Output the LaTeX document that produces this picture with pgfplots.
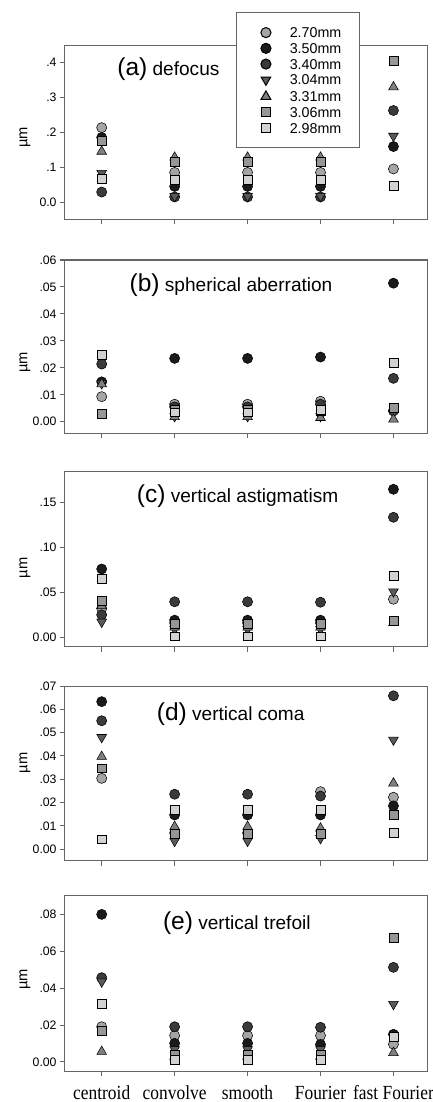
\documentclass[border=0pt]{standalone}
\usepackage{fontspec}
\setmainfont{Liberation Sans}
\newfontfamily\timesfont[FakeStretch=0.87]{Liberation Serif}
\usepackage{pgfplots}
\usepackage{pgfplotstable}
\pgfplotsset{compat=1.18}

\definecolor{c270}{HTML}{A5A5A5}
\definecolor{c350}{HTML}{1A1A1A}
\definecolor{c340}{HTML}{3A3A3A}
\definecolor{c304}{HTML}{5A5A5A}
\definecolor{c331}{HTML}{808080}
\definecolor{c306}{HTML}{969696}
\definecolor{c298}{HTML}{D2D2D2}
\definecolor{edge}{HTML}{2A2A2A}
\definecolor{frame}{HTML}{666666}

% columns: method index, then 2.70 3.50 3.40 3.04 3.31 3.06 2.98 mm
\pgfplotstableread{
x  a   b   c   d   e   f   g
0 0.213 0.185 0.029 0.083 0.145 0.176 0.068
1 0.085 0.045 0.015 0.017 0.128 0.115 0.063
2 0.085 0.045 0.015 0.017 0.128 0.115 0.063
3 0.085 0.045 0.015 0.017 0.128 0.115 0.063
4 0.095 0.159 0.262 0.189 0.329 0.404 0.047
}\defocus
\pgfplotstableread{
x  a   b   c   d   e   f   g
0 0.0093 0.0148 0.0214 0.0142 0.0140 0.0029 0.0248
1 0.0065 0.0235 0.0055 0.0020 0.0018 0.0045 0.0035
2 0.0065 0.0235 0.0055 0.0020 0.0018 0.0045 0.0035
3 0.0076 0.0240 0.0065 0.0020 0.0015 0.0040 0.0045
4 0.0040 0.0514 0.0161 0.0033 0.0009 0.0052 0.0219
}\spherical
\pgfplotstableread{
x  a   b   c   d   e   f   g
0 0.032 0.076 0.025 0.017 0.035 0.041 0.065
1 0.016 0.019 0.0395 0.009 0.011 0.015 0.001
2 0.016 0.019 0.0395 0.009 0.011 0.015 0.001
3 0.016 0.019 0.039 0.009 0.011 0.015 0.001
4 0.0423 0.1648 0.1336 0.0508 0.016 0.018 0.0683
}\astig
\pgfplotstableread{
x  a   b   c   d   e   f   g
0 0.0304 0.0633 0.0551 0.048 0.0397 0.0347 0.0043
1 0.007 0.0147 0.0236 0.0035 0.0097 0.0066 0.0171
2 0.007 0.0147 0.0236 0.0035 0.0097 0.0066 0.0171
3 0.0247 0.0147 0.0228 0.0047 0.009 0.0066 0.0168
4 0.0223 0.0186 0.0658 0.0469 0.0283 0.0147 0.0069
}\coma
\pgfplotstableread{
x  a   b   c   d   e   f   g
0 0.0191 0.080 0.0457 0.0435 0.0056 0.017 0.0314
1 0.0143 0.0101 0.0191 0.0068 0.003 0.004 0.0013
2 0.0143 0.0101 0.0191 0.0068 0.003 0.004 0.0013
3 0.0143 0.0095 0.0188 0.0068 0.003 0.004 0.0013
4 0.0096 0.0150 0.0513 0.0313 0.005 0.0673 0.0137
}\trefoil

\pgfplotsset{
  panel/.style={
    scale only axis, width=271.875pt,
    xmin=-0.51, xmax=4.46,
    xtick={0,1,2,3,4}, xticklabels={},
    scaled y ticks=false,
    tick align=outside, major tick length=3.75pt,
    xtick pos=bottom, ytick pos=left,
    axis line style={frame, line width=0.75pt},
    every tick/.style={frame, line width=0.75pt},
    tick label style={font=\fontsize{9.2}{11}\selectfont},
    yticklabel style={anchor=east, inner sep=0pt, xshift=-2pt},
    ylabel={µm},
    ylabel style={font=\fontsize{11}{12}\selectfont, anchor=center},
    clip=false,
  },
  mk/.style={only marks, mark options={draw=edge, line width=0.55pt}},
  s1/.style={mk, mark=*, mark size=3.8pt, mark options={fill=c270}},
  s2/.style={mk, mark=*, mark size=3.8pt, mark options={fill=c350}},
  s3/.style={mk, mark=*, mark size=3.8pt, mark options={fill=c340}},
  s4/.style={mk, mark=triangle*, mark size=4.2pt, mark options={rotate=180, fill=c304}},
  s5/.style={mk, mark=triangle*, mark size=4.2pt, mark options={fill=c331}},
  s6/.style={mk, mark=square*, mark size=3.3pt, mark options={fill=c306}},
  s7/.style={mk, mark=square*, mark size=3.3pt, mark options={fill=c298}},
}
\tikzset{titlefont/.style={font=\fontsize{14.3}{16}\selectfont, anchor=base west, inner sep=0pt}}
\newcommand{\bigpar}[1]{{\fontsize{18.4}{20}\selectfont #1}}
\newcommand{\allseries}[1]{%
  \addplot[s1] table[x=x,y=a]{#1};
  \addplot[s2] table[x=x,y=b]{#1};
  \addplot[s3] table[x=x,y=c]{#1};
  \addplot[s4] table[x=x,y=d]{#1};
  \addplot[s5] table[x=x,y=e]{#1};
  \addplot[s6] table[x=x,y=f]{#1};
  \addplot[s7] table[x=x,y=g]{#1};
}

\begin{document}
\begin{tikzpicture}
\path[use as bounding box] (0,0) rectangle (324pt,-826.5pt);

% (a)
\begin{axis}[panel, at={(48.375pt,-164.5pt)}, anchor=south west, height=130.7pt,
  ymin=-0.049, ymax=0.449,
  ytick={0,0.1,0.2,0.3,0.4}, yticklabels={0.0,.1,.2,.3,.4},
  ylabel style={at={(axis description cs:-0.109,0.47)}},
  legend image code/.code={\path (0pt,0pt) (17pt,0pt); \draw[#1] plot coordinates {(8.5pt,0pt)};},
  legend style={at={(axis description cs:0.472,1.188)}, anchor=north west,
    draw=frame, line width=0.75pt, fill=white,
    inner xsep=13.5pt, inner ysep=11pt, row sep=4.1pt, column sep=9pt,
    nodes={inner sep=0pt, text height=7.7pt, text depth=0pt, font=\fontsize{10.7}{11}\selectfont}},
  legend cell align=left]
\allseries{\defocus}
\legend{2.70mm,3.50mm,3.40mm,3.04mm,3.31mm,3.06mm,2.98mm}
\node[titlefont] at (rel axis cs:0.145,0.825) {\bigpar{(a)} defocus};
\end{axis}

% (b)
\begin{axis}[panel, at={(48.375pt,-325pt)}, anchor=south west, height=130pt,
  ymin=-0.0043, ymax=0.06,
  ytick={0,0.01,0.02,0.03,0.04,0.05,0.06}, yticklabels={0.00,.01,.02,.03,.04,.05,.06},
  ylabel style={at={(axis description cs:-0.109,0.41)}}]
\allseries{\spherical}
\node[titlefont] at (rel axis cs:0.179,0.821) {\bigpar{(b)} spherical aberration};
\end{axis}

% (c)
\begin{axis}[panel, at={(48.375pt,-485pt)}, anchor=south west, height=131.25pt,
  ymin=-0.0105, ymax=0.1844,
  ytick={0,0.05,0.10,0.15}, yticklabels={0.00,.05,.10,.15},
  ylabel style={at={(axis description cs:-0.109,0.45)}}]
\allseries{\astig}
\node[titlefont] at (rel axis cs:0.199,0.825) {\bigpar{(c)} vertical astigmatism};
\end{axis}

% (d)
\begin{axis}[panel, at={(48.375pt,-645.5pt)}, anchor=south west, height=131pt,
  ymin=-0.0049, ymax=0.07,
  ytick={0,0.01,0.02,0.03,0.04,0.05,0.06,0.07}, yticklabels={0.00,.01,.02,.03,.04,.05,.06,.07},
  ylabel style={at={(axis description cs:-0.109,0.56)}}]
\allseries{\coma}
\node[titlefont] at (rel axis cs:0.254,0.805) {\bigpar{(d)} vertical coma};
\end{axis}

% (e)
\begin{axis}[panel, at={(48.375pt,-803.25pt)}, anchor=south west, height=132pt,
  ymin=-0.0049, ymax=0.0905,
  ytick={0,0.02,0.04,0.06,0.08}, yticklabels={0.00,.02,.04,.06,.08},
  ylabel style={at={(axis description cs:-0.109,0.52)}},
  xticklabels={centroid,convolve,smooth,Fourier,fast Fourier},
  xticklabel style={font=\timesfont\fontsize{15}{16}\selectfont, anchor=base, inner sep=0pt, yshift=-17.5pt}]
\allseries{\trefoil}
\node[titlefont] at (rel axis cs:0.271,0.805) {\bigpar{(e)} vertical trefoil};
\end{axis}
\end{tikzpicture}
\end{document}
